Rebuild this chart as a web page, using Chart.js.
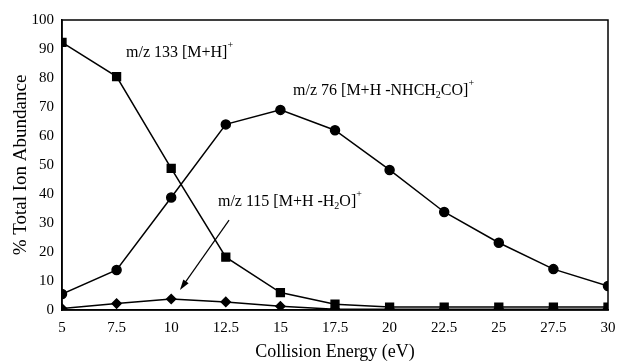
<!DOCTYPE html>
<html>
<head>
<meta charset="utf-8">
<script src="https://cdn.jsdelivr.net/npm/chart.js@4"></script>
<style>
  html, body { margin: 0; padding: 0; background: #fff; }
  #wrap { width: 619px; height: 361px; }
</style>
</head>
<body>
<div id="wrap"><canvas id="ionChart" width="619" height="361"></canvas></div>
<script>
const energies = [5, 7.5, 10, 12.5, 15, 17.5, 20, 22.5, 25, 27.5, 30];
const mh133 = [92.3, 80.5, 48.8, 18.2, 6, 2, 1, 1, 1, 1, 1];
const ion76 = [5.5, 13.8, 38.8, 64, 69, 62, 48.3, 33.8, 23.2, 14.1, 8.3];
const ion115 = [0.5, 2.2, 3.8, 2.8, 1.3, 0.3, 0.3, 0.3, 0.3, 0.3, 0.3];
const yTicks = [0, 10, 20, 30, 40, 50, 60, 70, 80, 90, 100];

const serif = "'Liberation Serif', 'DejaVu Serif', serif";

function pts(vals){
    return vals.map((v, i) => ({x: energies[i], y: v}));
}

// labels with sub/superscripts, anchored in data units
const labels = [
    {x: 7.93, y: 87.4, parts: [["m/z 133 [M+H]", "n"], ["+", "sup"]]},
    {x: 15.58, y: 74.0, parts: [["m/z 76 [M+H -NHCH", "n"], ["2", "sub"], ["CO]", "n"], ["+", "sup"]]},
    {x: 12.14, y: 36.0, parts: [["m/z 115 [M+H -H", "n"], ["2", "sub"], ["O]", "n"], ["+", "sup"]]}
];
const arrow = {x1: 12.65, y1: 31, x2: 10.4, y2: 6.9};

const notes = {
    id: "notes",
    afterDatasetsDraw(chart){
        const ctx = chart.ctx;
        const xs = chart.scales.x, ys = chart.scales.y;
        const area = chart.chartArea;
        ctx.save();
        // frame
        ctx.strokeStyle = "#000";
        ctx.lineWidth = 1.5;
        ctx.strokeRect(area.left, area.top, area.right - area.left, area.bottom - area.top);
        ctx.fillStyle = "#000";
        ctx.textBaseline = "alphabetic";
        labels.forEach(l => {
            let px = xs.getPixelForValue(l.x);
            let py = ys.getPixelForValue(l.y);
            l.parts.forEach(p => {
                let size = p[1] == "n" ? 16 : 10;
                let dy = p[1] == "sub" ? 3 : (p[1] == "sup" ? -9 : 0);
                ctx.font = size + "px " + serif;
                ctx.fillText(p[0], px, py + dy);
                px += ctx.measureText(p[0]).width;
            });
        });
        // arrow
        let ax = xs.getPixelForValue(arrow.x1), ay = ys.getPixelForValue(arrow.y1);
        let bx = xs.getPixelForValue(arrow.x2), by = ys.getPixelForValue(arrow.y2);
        let ang = Math.atan2(by - ay, bx - ax);
        ctx.lineWidth = 1.2;
        ctx.beginPath();
        ctx.moveTo(ax, ay);
        ctx.lineTo(bx - 8 * Math.cos(ang), by - 8 * Math.sin(ang));
        ctx.stroke();
        ctx.beginPath();
        ctx.moveTo(bx, by);
        ctx.lineTo(bx - 11 * Math.cos(ang - 0.3), by - 11 * Math.sin(ang - 0.3));
        ctx.lineTo(bx - 11 * Math.cos(ang + 0.3), by - 11 * Math.sin(ang + 0.3));
        ctx.closePath();
        ctx.fill();
        ctx.restore();
    }
};

new Chart("ionChart", {
    type: "line",
    data: {
        datasets: [
            {label: "m/z 115", data: pts(ion115), pointStyle: "rectRot", pointRadius: 4.5,
             borderColor: "#000", backgroundColor: "#000", borderWidth: 1.5},
            {label: "m/z 76", data: pts(ion76), pointStyle: "circle", pointRadius: 4.5,
             borderColor: "#000", backgroundColor: "#000", borderWidth: 1.5},
            {label: "m/z 133", data: pts(mh133), pointStyle: "rect", pointRadius: 5.5,
             borderColor: "#000", backgroundColor: "#000", borderWidth: 1.5}
        ]
    },
    options: {
        responsive: false,
        animation: false,
        events: [],
        layout: {padding: {top: 20, right: 11, left: 0, bottom: 0}},
        plugins: {legend: {display: false}, tooltip: {enabled: false}},
        elements: {line: {tension: 0}, point: {borderWidth: 1}},
        scales: {
            x: {
                type: "linear", min: 5, max: 30,
                afterBuildTicks: s => { s.ticks = energies.map(v => ({value: v})); },
                afterFit: s => { s.height = 51; s.paddingLeft = 0; s.paddingRight = 0; },
                grid: {display: false, drawTicks: false},
                border: {display: true, color: "#000", width: 1.5},
                ticks: {color: "#000", padding: 9, maxRotation: 0, font: {family: serif, size: 15}},
                title: {display: true, text: "Collision Energy (eV)", color: "#000",
                        font: {family: serif, size: 18}, padding: {top: 7, bottom: -2}}
            },
            y: {
                min: 0, max: 100,
                afterBuildTicks: s => { s.ticks = yTicks.map(v => ({value: v})); },
                afterFit: s => { s.width = 62; s.paddingTop = 0; s.paddingBottom = 0; },
                grid: {display: false, drawTicks: true, tickLength: 4, tickColor: "#000"},
                border: {display: true, color: "#000", width: 1.5},
                ticks: {color: "#000", padding: 4, font: {family: serif, size: 15}},
                title: {display: true, text: "% Total Ion Abundance", color: "#000",
                        font: {family: serif, size: 19}, padding: {top: 10, bottom: 0}}
            }
        }
    },
    plugins: [notes]
});
</script>
</body>
</html>
